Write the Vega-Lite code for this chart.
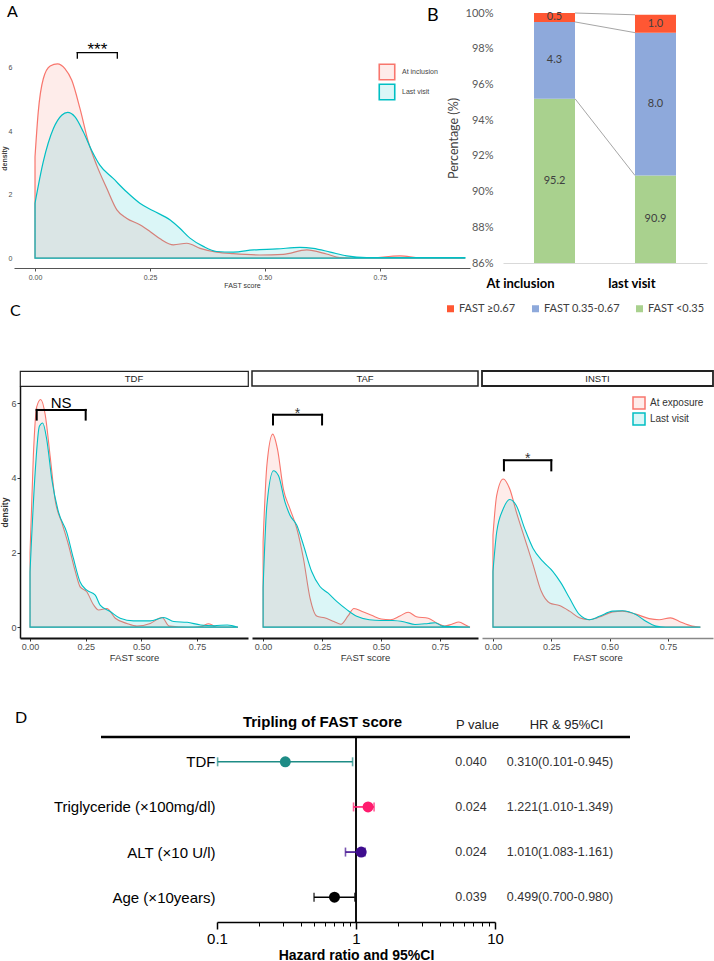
{
"$schema": "https://vega.github.io/schema/vega-lite/v6.json",
"padding": {"left": 0, "top": 4, "right": 0, "bottom": 0},
"background": "white",
"config": {"view": {"stroke": null}, "font": "Liberation Sans", "axis": {"grid": false}, "title": {"frame": "group", "anchor": "start", "fontWeight": "normal", "font": "Lato", "baseline": "bottom", "color": "black"}},
"datasets": {
"densA": [
{"series":"At inclusion","fast":0,"density":3.19},{"series":"At inclusion","fast":0.007,"density":4.6},{"series":"At inclusion","fast":0.018,"density":5.65},{"series":"At inclusion","fast":0.033,"density":6.05},{"series":"At inclusion","fast":0.049,"density":6.12},{"series":"At inclusion","fast":0.065,"density":5.97},{"series":"At inclusion","fast":0.08,"density":5.6},{"series":"At inclusion","fast":0.098,"density":4.7},{"series":"At inclusion","fast":0.116,"density":3.66},{"series":"At inclusion","fast":0.134,"density":2.93},{"series":"At inclusion","fast":0.156,"density":2.2},{"series":"At inclusion","fast":0.178,"density":1.52},{"series":"At inclusion","fast":0.199,"density":1.26},{"series":"At inclusion","fast":0.228,"density":1.05},{"series":"At inclusion","fast":0.25,"density":0.84},{"series":"At inclusion","fast":0.272,"density":0.61},{"series":"At inclusion","fast":0.301,"density":0.42},{"series":"At inclusion","fast":0.33,"density":0.47},{"series":"At inclusion","fast":0.359,"density":0.31},{"series":"At inclusion","fast":0.395,"density":0.19},{"series":"At inclusion","fast":0.431,"density":0.14},{"series":"At inclusion","fast":0.489,"density":0.1},{"series":"At inclusion","fast":0.54,"density":0.12},{"series":"At inclusion","fast":0.591,"density":0.26},{"series":"At inclusion","fast":0.634,"density":0.13},{"series":"At inclusion","fast":0.663,"density":0.02},{"series":"At inclusion","fast":0.721,"density":0},{"series":"At inclusion","fast":0.794,"density":0.07},{"series":"At inclusion","fast":0.837,"density":0.01},{"series":"At inclusion","fast":0.935,"density":0},
{"series":"Last visit","fast":0,"density":1.73},{"series":"Last visit","fast":0.018,"density":3.04},{"series":"Last visit","fast":0.04,"density":4.08},{"series":"Last visit","fast":0.058,"density":4.5},{"series":"Last visit","fast":0.071,"density":4.59},{"series":"Last visit","fast":0.087,"density":4.45},{"series":"Last visit","fast":0.105,"density":3.98},{"series":"Last visit","fast":0.123,"density":3.4},{"series":"Last visit","fast":0.141,"density":2.93},{"series":"Last visit","fast":0.17,"density":2.51},{"series":"Last visit","fast":0.199,"density":2.09},{"series":"Last visit","fast":0.228,"density":1.73},{"series":"Last visit","fast":0.257,"density":1.49},{"series":"Last visit","fast":0.294,"density":1.2},{"series":"Last visit","fast":0.315,"density":0.94},{"series":"Last visit","fast":0.337,"density":0.63},{"series":"Last visit","fast":0.366,"density":0.37},{"series":"Last visit","fast":0.395,"density":0.21},{"series":"Last visit","fast":0.431,"density":0.19},{"series":"Last visit","fast":0.475,"density":0.26},{"series":"Last visit","fast":0.526,"density":0.29},{"series":"Last visit","fast":0.576,"density":0.34},{"series":"Last visit","fast":0.605,"density":0.31},{"series":"Last visit","fast":0.642,"density":0.19},{"series":"Last visit","fast":0.678,"density":0.07},{"series":"Last visit","fast":0.721,"density":0.02},{"series":"Last visit","fast":0.83,"density":0.02},{"series":"Last visit","fast":0.935,"density":0.02}
],
"densC": [
{"drug":"TDF","series":"At exposure","fast":0,"density":2.0},{"drug":"TDF","series":"At exposure","fast":0.015,"density":4.6},{"drug":"TDF","series":"At exposure","fast":0.03,"density":5.9},{"drug":"TDF","series":"At exposure","fast":0.048,"density":6.1},{"drug":"TDF","series":"At exposure","fast":0.068,"density":5.7},{"drug":"TDF","series":"At exposure","fast":0.09,"density":4.6},{"drug":"TDF","series":"At exposure","fast":0.113,"density":3.4},{"drug":"TDF","series":"At exposure","fast":0.143,"density":2.8},{"drug":"TDF","series":"At exposure","fast":0.173,"density":2.2},{"drug":"TDF","series":"At exposure","fast":0.203,"density":1.5},{"drug":"TDF","series":"At exposure","fast":0.225,"density":1.08},{"drug":"TDF","series":"At exposure","fast":0.255,"density":0.95},{"drug":"TDF","series":"At exposure","fast":0.285,"density":0.6},{"drug":"TDF","series":"At exposure","fast":0.308,"density":0.46},{"drug":"TDF","series":"At exposure","fast":0.345,"density":0.5},{"drug":"TDF","series":"At exposure","fast":0.383,"density":0.24},{"drug":"TDF","series":"At exposure","fast":0.435,"density":0.1},{"drug":"TDF","series":"At exposure","fast":0.48,"density":0.03},{"drug":"TDF","series":"At exposure","fast":0.54,"density":0.1},{"drug":"TDF","series":"At exposure","fast":0.593,"density":0.26},{"drug":"TDF","series":"At exposure","fast":0.625,"density":0.03},{"drug":"TDF","series":"At exposure","fast":0.706,"density":0},{"drug":"TDF","series":"At exposure","fast":0.766,"density":0.02},{"drug":"TDF","series":"At exposure","fast":0.803,"density":0.09},{"drug":"TDF","series":"At exposure","fast":0.841,"density":0},{"drug":"TDF","series":"At exposure","fast":0.934,"density":0},
{"drug":"TDF","series":"Last visit","fast":0,"density":1.48},{"drug":"TDF","series":"Last visit","fast":0.023,"density":4.14},{"drug":"TDF","series":"Last visit","fast":0.042,"density":5.38},{"drug":"TDF","series":"Last visit","fast":0.057,"density":5.47},{"drug":"TDF","series":"Last visit","fast":0.075,"density":5.03},{"drug":"TDF","series":"Last visit","fast":0.098,"density":3.96},{"drug":"TDF","series":"Last visit","fast":0.128,"density":3.08},{"drug":"TDF","series":"Last visit","fast":0.165,"density":2.54},{"drug":"TDF","series":"Last visit","fast":0.195,"density":1.84},{"drug":"TDF","series":"Last visit","fast":0.225,"density":1.21},{"drug":"TDF","series":"Last visit","fast":0.255,"density":0.99},{"drug":"TDF","series":"Last visit","fast":0.293,"density":0.86},{"drug":"TDF","series":"Last visit","fast":0.315,"density":0.59},{"drug":"TDF","series":"Last visit","fast":0.36,"density":0.42},{"drug":"TDF","series":"Last visit","fast":0.405,"density":0.24},{"drug":"TDF","series":"Last visit","fast":0.465,"density":0.17},{"drug":"TDF","series":"Last visit","fast":0.54,"density":0.17},{"drug":"TDF","series":"Last visit","fast":0.6,"density":0.26},{"drug":"TDF","series":"Last visit","fast":0.646,"density":0.15},{"drug":"TDF","series":"Last visit","fast":0.706,"density":0.13},{"drug":"TDF","series":"Last visit","fast":0.766,"density":0.06},{"drug":"TDF","series":"Last visit","fast":0.826,"density":0.04},{"drug":"TDF","series":"Last visit","fast":0.886,"density":0.06},{"drug":"TDF","series":"Last visit","fast":0.934,"density":0},
{"drug":"TAF","series":"At exposure","fast":0,"density":2.29},{"drug":"TAF","series":"At exposure","fast":0.016,"density":4.33},{"drug":"TAF","series":"At exposure","fast":0.041,"density":5.17},{"drug":"TAF","series":"At exposure","fast":0.061,"density":4.77},{"drug":"TAF","series":"At exposure","fast":0.086,"density":3.7},{"drug":"TAF","series":"At exposure","fast":0.114,"density":3.17},{"drug":"TAF","series":"At exposure","fast":0.143,"density":2.64},{"drug":"TAF","series":"At exposure","fast":0.171,"density":1.84},{"drug":"TAF","series":"At exposure","fast":0.199,"density":0.78},{"drug":"TAF","series":"At exposure","fast":0.227,"density":0.3},{"drug":"TAF","series":"At exposure","fast":0.26,"density":0.25},{"drug":"TAF","series":"At exposure","fast":0.3,"density":0.15},{"drug":"TAF","series":"At exposure","fast":0.33,"density":0.08},{"drug":"TAF","series":"At exposure","fast":0.36,"density":0.3},{"drug":"TAF","series":"At exposure","fast":0.385,"density":0.5},{"drug":"TAF","series":"At exposure","fast":0.42,"density":0.42},{"drug":"TAF","series":"At exposure","fast":0.46,"density":0.32},{"drug":"TAF","series":"At exposure","fast":0.5,"density":0.22},{"drug":"TAF","series":"At exposure","fast":0.54,"density":0.2},{"drug":"TAF","series":"At exposure","fast":0.58,"density":0.3},{"drug":"TAF","series":"At exposure","fast":0.615,"density":0.4},{"drug":"TAF","series":"At exposure","fast":0.65,"density":0.28},{"drug":"TAF","series":"At exposure","fast":0.7,"density":0.24},{"drug":"TAF","series":"At exposure","fast":0.74,"density":0.1},{"drug":"TAF","series":"At exposure","fast":0.77,"density":0.03},{"drug":"TAF","series":"At exposure","fast":0.8,"density":0.08},{"drug":"TAF","series":"At exposure","fast":0.83,"density":0.14},{"drug":"TAF","series":"At exposure","fast":0.86,"density":0.05},{"drug":"TAF","series":"At exposure","fast":0.877,"density":0},
{"drug":"TAF","series":"Last visit","fast":0,"density":1.05},{"drug":"TAF","series":"Last visit","fast":0.016,"density":3.26},{"drug":"TAF","series":"Last visit","fast":0.044,"density":4.19},{"drug":"TAF","series":"Last visit","fast":0.065,"density":4.06},{"drug":"TAF","series":"Last visit","fast":0.093,"density":3.35},{"drug":"TAF","series":"Last visit","fast":0.114,"density":3.0},{"drug":"TAF","series":"Last visit","fast":0.143,"density":2.73},{"drug":"TAF","series":"Last visit","fast":0.171,"density":2.2},{"drug":"TAF","series":"Last visit","fast":0.206,"density":1.49},{"drug":"TAF","series":"Last visit","fast":0.241,"density":1.09},{"drug":"TAF","series":"Last visit","fast":0.276,"density":0.91},{"drug":"TAF","series":"Last visit","fast":0.312,"density":0.69},{"drug":"TAF","series":"Last visit","fast":0.355,"density":0.47},{"drug":"TAF","series":"Last visit","fast":0.397,"density":0.29},{"drug":"TAF","series":"Last visit","fast":0.45,"density":0.2},{"drug":"TAF","series":"Last visit","fast":0.5,"density":0.18},{"drug":"TAF","series":"Last visit","fast":0.55,"density":0.18},{"drug":"TAF","series":"Last visit","fast":0.6,"density":0.14},{"drug":"TAF","series":"Last visit","fast":0.644,"density":0.07},{"drug":"TAF","series":"Last visit","fast":0.7,"density":0.1},{"drug":"TAF","series":"Last visit","fast":0.73,"density":0.12},{"drug":"TAF","series":"Last visit","fast":0.76,"density":0.03},{"drug":"TAF","series":"Last visit","fast":0.83,"density":0.01},{"drug":"TAF","series":"Last visit","fast":0.877,"density":0},
{"drug":"INSTI","series":"At exposure","fast":0,"density":2.46},{"drug":"INSTI","series":"At exposure","fast":0.016,"density":3.53},{"drug":"INSTI","series":"At exposure","fast":0.044,"density":3.97},{"drug":"INSTI","series":"At exposure","fast":0.072,"density":3.7},{"drug":"INSTI","series":"At exposure","fast":0.1,"density":3.09},{"drug":"INSTI","series":"At exposure","fast":0.136,"density":2.38},{"drug":"INSTI","series":"At exposure","fast":0.172,"density":1.67},{"drug":"INSTI","series":"At exposure","fast":0.207,"density":0.96},{"drug":"INSTI","series":"At exposure","fast":0.243,"density":0.65},{"drug":"INSTI","series":"At exposure","fast":0.285,"density":0.58},{"drug":"INSTI","series":"At exposure","fast":0.328,"density":0.43},{"drug":"INSTI","series":"At exposure","fast":0.37,"density":0.25},{"drug":"INSTI","series":"At exposure","fast":0.413,"density":0.2},{"drug":"INSTI","series":"At exposure","fast":0.456,"density":0.27},{"drug":"INSTI","series":"At exposure","fast":0.513,"density":0.41},{"drug":"INSTI","series":"At exposure","fast":0.555,"density":0.43},{"drug":"INSTI","series":"At exposure","fast":0.612,"density":0.35},{"drug":"INSTI","series":"At exposure","fast":0.669,"density":0.23},{"drug":"INSTI","series":"At exposure","fast":0.712,"density":0.2},{"drug":"INSTI","series":"At exposure","fast":0.761,"density":0.25},{"drug":"INSTI","series":"At exposure","fast":0.797,"density":0.16},{"drug":"INSTI","series":"At exposure","fast":0.853,"density":0.03},{"drug":"INSTI","series":"At exposure","fast":0.889,"density":0},
{"drug":"INSTI","series":"Last visit","fast":0,"density":1.49},{"drug":"INSTI","series":"Last visit","fast":0.016,"density":2.55},{"drug":"INSTI","series":"Last visit","fast":0.044,"density":3.17},{"drug":"INSTI","series":"Last visit","fast":0.072,"density":3.42},{"drug":"INSTI","series":"Last visit","fast":0.1,"density":3.26},{"drug":"INSTI","series":"Last visit","fast":0.136,"density":2.64},{"drug":"INSTI","series":"Last visit","fast":0.172,"density":2.11},{"drug":"INSTI","series":"Last visit","fast":0.214,"density":1.76},{"drug":"INSTI","series":"Last visit","fast":0.257,"density":1.49},{"drug":"INSTI","series":"Last visit","fast":0.292,"density":1.18},{"drug":"INSTI","series":"Last visit","fast":0.328,"density":0.78},{"drug":"INSTI","series":"Last visit","fast":0.37,"density":0.34},{"drug":"INSTI","series":"Last visit","fast":0.413,"density":0.2},{"drug":"INSTI","series":"Last visit","fast":0.456,"density":0.29},{"drug":"INSTI","series":"Last visit","fast":0.513,"density":0.43},{"drug":"INSTI","series":"Last visit","fast":0.555,"density":0.44},{"drug":"INSTI","series":"Last visit","fast":0.612,"density":0.34},{"drug":"INSTI","series":"Last visit","fast":0.655,"density":0.16},{"drug":"INSTI","series":"Last visit","fast":0.698,"density":0.03},{"drug":"INSTI","series":"Last visit","fast":0.74,"density":0},{"drug":"INSTI","series":"Last visit","fast":0.889,"density":0}
],
"bars": [
{"visit":"At inclusion","band":"FAST <0.35","lower":0,"pct":95.2},
{"visit":"At inclusion","band":"FAST 0.35-0.67","lower":0.35,"pct":4.3},
{"visit":"At inclusion","band":"FAST ≥0.67","lower":0.67,"pct":0.5},
{"visit":"last visit","band":"FAST <0.35","lower":0,"pct":90.9},
{"visit":"last visit","band":"FAST 0.35-0.67","lower":0.35,"pct":8.0},
{"visit":"last visit","band":"FAST ≥0.67","lower":0.67,"pct":1.0}
],
"forest": [
{"var":"TDF","hr":0.31,"lo":0.101,"hi":0.945,"P value":"0.040","HR & 95%CI":"0.310(0.101-0.945)"},
{"var":"Triglyceride (×100mg/dl)","hr":1.221,"lo":0.96,"hi":1.349,"P value":"0.024","HR & 95%CI":"1.221(1.010-1.349)"},
{"var":"ALT (×10 U/l)","hr":1.09,"lo":0.84,"hi":1.16,"P value":"0.024","HR & 95%CI":"1.010(1.083-1.161)"},
{"var":"Age (×10years)","hr":0.7,"lo":0.499,"hi":0.98,"P value":"0.039","HR & 95%CI":"0.499(0.700-0.980)"}
]
},
"bounds": "flush",
"spacing": 0,
"resolve": {"scale": {"x": "independent", "y": "independent", "color": "independent", "fill": "independent", "stroke": "independent"}, "legend": {"color": "independent", "fill": "independent", "stroke": "independent"}},
"vconcat": [
{"hconcat": [
{
 "width": 456, "height": 255,
 "title": {"text": "A", "dx": -7, "offset": -7, "fontSize": 16},
 "layer": [
  {"data": {"name": "densA"},
   "mark": {"type": "area", "interpolate": "monotone", "fillOpacity": 0.14, "strokeWidth": 1.2},
   "encoding": {
    "x": {"field": "fast", "type": "quantitative", "scale": {"domain": [-0.0457, 0.946], "nice": false, "zero": false},
          "axis": {"values": [0, 0.25, 0.5, 0.75], "format": ".2f", "title": "FAST score", "titleFontSize": 7, "titleFontWeight": "normal", "titleColor": "#333", "titlePadding": 1, "labelFontSize": 7, "labelColor": "#4D4D4D", "labelPadding": 2, "labelFlush": false, "domainColor": "#555", "tickColor": "#555", "tickSize": 3}},
    "y": {"field": "density", "type": "quantitative", "stack": null, "scale": {"domain": [-0.31, 7.72], "nice": false, "zero": false},
          "axis": {"values": [0, 2, 4, 6], "title": "density", "titleFontSize": 7, "titleFontWeight": "bold", "titleColor": "#444", "titlePadding": 1, "titleY": 145, "labelFontSize": 7, "labelColor": "#4D4D4D", "labelPadding": 2, "domain": false, "ticks": false}},
    "y2": {"datum": 0},
    "fill": {"field": "series", "type": "nominal", "scale": {"domain": ["At inclusion", "Last visit"], "range": ["#F8766D", "#00BFC4"]},
             "legend": {"title": null, "orient": "none", "legendX": 364, "legendY": 50, "symbolType": "square", "symbolSize": 240, "symbolStrokeWidth": 1.6, "labelFontSize": 7, "labelColor": "#444", "rowPadding": -3, "labelOffset": 6, "encode": {"symbols": {"update": {"fillOpacity": {"value": 0.14}}}}}},
    "stroke": {"field": "series", "type": "nominal", "scale": {"domain": ["At inclusion", "Last visit"], "range": ["#F8766D", "#00BFC4"]},
             "legend": {"title": null, "orient": "none", "legendX": 364, "legendY": 50, "symbolType": "square", "symbolSize": 240, "symbolStrokeWidth": 1.6, "labelFontSize": 7, "labelColor": "#444", "rowPadding": -3, "labelOffset": 6, "encode": {"symbols": {"update": {"fillOpacity": {"value": 0.14}}}}}}
   }},
  {"data": {"values": [{"x1": 0.092, "x2": 0.179, "top": 6.47, "bot": 6.3, "label": "***"}]},
   "transform": [{"calculate": "(datum.x1 + datum.x2) / 2", "as": "xm"}],
   "layer": [
    {"mark": {"type": "rule", "color": "black", "strokeWidth": 1.3, "strokeCap": "square"}, "encoding": {"x": {"field": "x1", "type": "quantitative", "title": "FAST score"}, "x2": {"field": "x2"}, "y": {"field": "top", "type": "quantitative", "title": "density"}}},
    {"mark": {"type": "rule", "color": "black", "strokeWidth": 1.3, "strokeCap": "square"}, "encoding": {"x": {"field": "x1", "type": "quantitative", "title": "FAST score"}, "y": {"field": "top", "type": "quantitative", "title": "density"}, "y2": {"field": "bot"}}},
    {"mark": {"type": "rule", "color": "black", "strokeWidth": 1.3, "strokeCap": "square"}, "encoding": {"x": {"field": "x2", "type": "quantitative", "title": "FAST score"}, "y": {"field": "top", "type": "quantitative", "title": "density"}, "y2": {"field": "bot"}}},
    {"mark": {"type": "text", "fontSize": 17, "baseline": "bottom", "dy": 6, "color": "black"}, "encoding": {"x": {"field": "xm", "type": "quantitative", "title": "FAST score"}, "y": {"field": "top", "type": "quantitative", "title": "density"}, "text": {"field": "label"}}}
   ]}
 ]
},
{
 "width": 204, "height": 250,
 "title": {"text": "B", "dx": -76, "offset": -18, "fontSize": 18},
 "data": {"name": "bars"},
 "transform": [{"stack": "pct", "groupby": ["visit"], "sort": [{"field": "lower", "order": "ascending"}], "as": ["y0", "y1"]}],
 "layer": [
  {"transform": [{"pivot": "visit", "value": "y1", "groupby": ["band"]}],
   "mark": {"type": "rule", "color": "#A6A6A6", "strokeWidth": 1},
   "encoding": {
    "x": {"datum": "At inclusion", "type": "nominal", "bandPosition": 1, "title": null},
    "x2": {"datum": "last visit", "bandPosition": 0},
    "y": {"field": "At inclusion", "type": "quantitative", "title": "Percentage (%)"},
    "y2": {"field": "last visit"}
   }},
  {"mark": {"type": "bar"},
   "encoding": {
    "x": {"field": "visit", "type": "nominal", "sort": null, "scale": {"domain": ["At inclusion", "last visit"], "paddingInner": 0.594, "paddingOuter": 0.307},
          "axis": {"title": null, "labelAngle": 0, "labelFont": "Lato", "labelFontSize": 13, "labelFontWeight": "bold", "labelColor": "#000", "ticks": false, "tickSize": 0, "domainColor": "#D9D9D9", "labelPadding": 20}},
    "y": {"field": "y0", "type": "quantitative", "scale": {"domain": [86, 100], "nice": false, "zero": false, "clamp": true},
          "axis": {"values": [86, 88, 90, 92, 94, 96, 98, 100], "tickCount": 10, "labelExpr": "datum.value + '%'", "labelOverlap": false, "title": "Percentage (%)", "domain": false, "ticks": false, "tickSize": 0, "labelFont": "Lato", "labelFontSize": 11, "labelColor": "#595959", "labelPadding": 10, "titleFont": "Lato", "titleFontSize": 12.5, "titleFontWeight": "normal", "titleColor": "#404040", "titlePadding": 5}},
    "y2": {"field": "y1"},
    "color": {"field": "band", "type": "nominal", "scale": {"domain": ["FAST ≥0.67", "FAST 0.35-0.67", "FAST <0.35"], "range": ["#FF5733", "#8EA9DB", "#A9D18E"]},
              "legend": {"title": null, "orient": "none", "direction": "horizontal", "legendX": -58, "legendY": 290, "symbolType": "square", "symbolSize": 49, "labelFont": "Lato", "labelFontSize": 11, "labelColor": "#404040", "columnPadding": 14, "labelOffset": 3}}
   }},
  {"transform": [{"calculate": "(max(datum.y0, 86) + datum.y1) / 2", "as": "mid"}],
   "mark": {"type": "text", "font": "Lato", "fontSize": 11, "color": "#404040"},
   "encoding": {
    "x": {"field": "visit", "type": "nominal", "title": null},
    "y": {"field": "mid", "type": "quantitative", "title": "Percentage (%)"},
    "text": {"field": "pct", "type": "quantitative", "format": ".1f"}
   }}
 ]
}
], "spacing": 33, "bounds": "flush",
"resolve": {"scale": {"x": "independent", "y": "independent", "color": "independent", "fill": "independent", "stroke": "independent"}, "legend": {"color": "independent", "fill": "independent", "stroke": "independent"}}},

{"width": 1, "height": 358, "data": {"values": []}, "mark": "point"},

{"hconcat": [
{"width": 2, "height": 15, "title": {"text": "C", "dx": -4, "offset": 52, "fontSize": 16}, "data": {"values": []}, "mark": "point"},
{"width": 228, "height": 15, "data": {"values": [{"drug": "TDF"}]}, "view": {"stroke": "#222", "strokeWidth": 1.2, "fill": "white"}, "mark": {"type": "text", "fontSize": 9.5, "color": "#1A1A1A"}, "encoding": {"text": {"field": "drug"}}},
{"width": 226, "height": 15, "data": {"values": [{"drug": "TAF"}]}, "view": {"stroke": "#222", "strokeWidth": 1.5, "fill": "white"}, "mark": {"type": "text", "fontSize": 9.5, "color": "#1A1A1A"}, "encoding": {"text": {"field": "drug"}}},
{"width": 231, "height": 15, "data": {"values": [{"drug": "INSTI"}]}, "view": {"stroke": "#222", "strokeWidth": 1.8, "fill": "white"}, "mark": {"type": "text", "fontSize": 9.5, "color": "#1A1A1A"}, "encoding": {"text": {"field": "drug"}}}
], "spacing": 4, "bounds": "flush"},

{"width": 1, "height": 15, "data": {"values": []}, "mark": "point"},

{"hconcat": [
{"width": 2, "height": 1, "data": {"values": []}, "mark": "point"},
{
 "width": 228, "height": 252,
 "layer": [
  {"data": {"name": "densC"}, "transform": [{"filter": "datum.drug === 'TDF'"}],
   "mark": {"type": "area", "interpolate": "monotone", "fillOpacity": 0.14, "strokeWidth": 1.1},
   "encoding": {
    "x": {"field": "fast", "type": "quantitative", "scale": {"domain": [-0.045, 0.979], "nice": false, "zero": false},
          "axis": {"values": [0, 0.25, 0.5, 0.75], "format": ".2f", "title": "FAST score", "titleFontSize": 9.5, "titleFontWeight": "normal", "titleColor": "#333", "titlePadding": 1, "labelFontSize": 9, "labelColor": "#4D4D4D", "labelPadding": 1, "labelFlush": false, "domainColor": "#111", "domainWidth": 1.8, "tickColor": "#333", "tickSize": 3}},
    "y": {"field": "density", "type": "quantitative", "stack": null, "scale": {"domain": [-0.29, 6.46], "nice": false, "zero": false},
          "axis": {"values": [0, 2, 4, 6], "title": "density", "titleFontSize": 8.5, "titleFontWeight": "bold", "titleColor": "#333", "titlePadding": 1, "labelFontSize": 9, "labelColor": "#4D4D4D", "labelPadding": 1, "domainColor": "#111", "domainWidth": 1.5, "tickColor": "#333", "tickSize": 3}},
    "y2": {"datum": 0},
    "fill": {"field": "series", "type": "nominal", "scale": {"domain": ["At exposure", "Last visit"], "range": ["#F8766D", "#00BFC4"]}, "legend": null},
    "stroke": {"field": "series", "type": "nominal", "scale": {"domain": ["At exposure", "Last visit"], "range": ["#F8766D", "#00BFC4"]}, "legend": null}
   }},
  {"data": {"values": [{"x1": 0.03, "x2": 0.25, "top": 5.82, "bot": 5.56, "label": "NS"}]},
   "transform": [{"calculate": "(datum.x1 + datum.x2) / 2", "as": "xm"}],
   "layer": [
    {"mark": {"type": "rule", "color": "black", "strokeWidth": 2, "strokeCap": "square"}, "encoding": {"x": {"field": "x1", "type": "quantitative", "title": "FAST score"}, "x2": {"field": "x2"}, "y": {"field": "top", "type": "quantitative", "title": "density"}}},
    {"mark": {"type": "rule", "color": "black", "strokeWidth": 2, "strokeCap": "square"}, "encoding": {"x": {"field": "x1", "type": "quantitative", "title": "FAST score"}, "y": {"field": "top", "type": "quantitative", "title": "density"}, "y2": {"field": "bot"}}},
    {"mark": {"type": "rule", "color": "black", "strokeWidth": 2, "strokeCap": "square"}, "encoding": {"x": {"field": "x2", "type": "quantitative", "title": "FAST score"}, "y": {"field": "top", "type": "quantitative", "title": "density"}, "y2": {"field": "bot"}}},
    {"mark": {"type": "text", "fontSize": 15, "baseline": "bottom", "dy": 1, "color": "black"}, "encoding": {"x": {"field": "xm", "type": "quantitative", "title": "FAST score"}, "y": {"field": "top", "type": "quantitative", "title": "density"}, "text": {"field": "label"}}}
   ]}
 ]
},
{
 "width": 226, "height": 252,
 "layer": [
  {"data": {"name": "densC"}, "transform": [{"filter": "datum.drug === 'TAF'"}],
   "mark": {"type": "area", "interpolate": "monotone", "fillOpacity": 0.14, "strokeWidth": 1.1},
   "encoding": {
    "x": {"field": "fast", "type": "quantitative", "scale": {"domain": [-0.047, 0.911], "nice": false, "zero": false},
          "axis": {"values": [0, 0.25, 0.5, 0.75], "format": ".2f", "title": "FAST score", "titleFontSize": 9.5, "titleFontWeight": "normal", "titleColor": "#333", "titlePadding": 1, "labelFontSize": 9, "labelColor": "#4D4D4D", "labelPadding": 1, "labelFlush": false, "domainColor": "#111", "domainWidth": 2, "tickColor": "#333", "tickSize": 3}},
    "y": {"field": "density", "type": "quantitative", "stack": null, "scale": {"domain": [-0.29, 6.46], "nice": false, "zero": false}, "axis": null},
    "y2": {"datum": 0},
    "fill": {"field": "series", "type": "nominal", "scale": {"domain": ["At exposure", "Last visit"], "range": ["#F8766D", "#00BFC4"]}, "legend": null},
    "stroke": {"field": "series", "type": "nominal", "scale": {"domain": ["At exposure", "Last visit"], "range": ["#F8766D", "#00BFC4"]}, "legend": null}
   }},
  {"data": {"values": [{"x1": 0.042, "x2": 0.25, "top": 5.69, "bot": 5.43, "label": "*"}]},
   "transform": [{"calculate": "(datum.x1 + datum.x2) / 2", "as": "xm"}],
   "layer": [
    {"mark": {"type": "rule", "color": "black", "strokeWidth": 2, "strokeCap": "square"}, "encoding": {"x": {"field": "x1", "type": "quantitative", "title": "FAST score"}, "x2": {"field": "x2"}, "y": {"field": "top", "type": "quantitative", "axis": null}}},
    {"mark": {"type": "rule", "color": "black", "strokeWidth": 2, "strokeCap": "square"}, "encoding": {"x": {"field": "x1", "type": "quantitative", "title": "FAST score"}, "y": {"field": "top", "type": "quantitative", "axis": null}, "y2": {"field": "bot"}}},
    {"mark": {"type": "rule", "color": "black", "strokeWidth": 2, "strokeCap": "square"}, "encoding": {"x": {"field": "x2", "type": "quantitative", "title": "FAST score"}, "y": {"field": "top", "type": "quantitative", "axis": null}, "y2": {"field": "bot"}}},
    {"mark": {"type": "text", "fontSize": 14, "baseline": "bottom", "dy": 6, "color": "#333"}, "encoding": {"x": {"field": "xm", "type": "quantitative", "title": "FAST score"}, "y": {"field": "top", "type": "quantitative", "axis": null}, "text": {"field": "label"}}}
   ]}
 ]
},
{
 "width": 231, "height": 252,
 "layer": [
  {"data": {"name": "densC"}, "transform": [{"filter": "datum.drug === 'INSTI'"}],
   "mark": {"type": "area", "interpolate": "monotone", "fillOpacity": 0.14, "strokeWidth": 1.1},
   "encoding": {
    "x": {"field": "fast", "type": "quantitative", "scale": {"domain": [-0.047, 0.943], "nice": false, "zero": false},
          "axis": {"values": [0, 0.25, 0.5, 0.75], "format": ".2f", "title": "FAST score", "titleFontSize": 9.5, "titleFontWeight": "normal", "titleColor": "#333", "titlePadding": 1, "labelFontSize": 9, "labelColor": "#4D4D4D", "labelPadding": 1, "labelFlush": false, "domainColor": "#888", "domainWidth": 1.5, "tickColor": "#333", "tickSize": 3}},
    "y": {"field": "density", "type": "quantitative", "stack": null, "scale": {"domain": [-0.29, 6.46], "nice": false, "zero": false}, "axis": null},
    "y2": {"datum": 0},
    "fill": {"field": "series", "type": "nominal", "scale": {"domain": ["At exposure", "Last visit"], "range": ["#F8766D", "#00BFC4"]},
             "legend": {"title": null, "orient": "none", "legendX": 150, "legendY": 10, "symbolType": "square", "symbolSize": 144, "symbolStrokeWidth": 1.5, "labelFontSize": 10, "labelColor": "#333", "rowPadding": -4, "labelOffset": 4, "encode": {"symbols": {"update": {"fillOpacity": {"value": 0.14}}}}}},
    "stroke": {"field": "series", "type": "nominal", "scale": {"domain": ["At exposure", "Last visit"], "range": ["#F8766D", "#00BFC4"]},
             "legend": {"title": null, "orient": "none", "legendX": 150, "legendY": 10, "symbolType": "square", "symbolSize": 144, "symbolStrokeWidth": 1.5, "labelFontSize": 10, "labelColor": "#333", "rowPadding": -4, "labelOffset": 4, "encode": {"symbols": {"update": {"fillOpacity": {"value": 0.14}}}}}}
   }},
  {"data": {"values": [{"x1": 0.047, "x2": 0.25, "top": 4.47, "bot": 4.2, "label": "*"}]},
   "transform": [{"calculate": "(datum.x1 + datum.x2) / 2", "as": "xm"}],
   "layer": [
    {"mark": {"type": "rule", "color": "black", "strokeWidth": 2, "strokeCap": "square"}, "encoding": {"x": {"field": "x1", "type": "quantitative", "title": "FAST score"}, "x2": {"field": "x2"}, "y": {"field": "top", "type": "quantitative", "axis": null}}},
    {"mark": {"type": "rule", "color": "black", "strokeWidth": 2, "strokeCap": "square"}, "encoding": {"x": {"field": "x1", "type": "quantitative", "title": "FAST score"}, "y": {"field": "top", "type": "quantitative", "axis": null}, "y2": {"field": "bot"}}},
    {"mark": {"type": "rule", "color": "black", "strokeWidth": 2, "strokeCap": "square"}, "encoding": {"x": {"field": "x2", "type": "quantitative", "title": "FAST score"}, "y": {"field": "top", "type": "quantitative", "axis": null}, "y2": {"field": "bot"}}},
    {"mark": {"type": "text", "fontSize": 14, "baseline": "bottom", "dy": 6, "color": "#333"}, "encoding": {"x": {"field": "xm", "type": "quantitative", "title": "FAST score"}, "y": {"field": "top", "type": "quantitative", "axis": null}, "text": {"field": "label"}}}
   ]}
 ]
}
], "spacing": 4, "bounds": "flush",
"resolve": {"scale": {"x": "independent", "y": "independent", "fill": "independent", "stroke": "independent"}, "legend": {"fill": "independent", "stroke": "independent"}}},

{"width": 1, "height": 351, "data": {"values": []}, "mark": "point"},

{"hconcat": [
{"width": 83, "height": 185, "title": {"text": "D", "dx": 1, "offset": 11, "fontSize": 16}, "data": {"values": []}, "mark": "point"},
{
 "width": 529, "height": 185,
 "data": {"name": "forest"},
 "layer": [
  {"data": {"values": [{"frame": 1}]},
   "mark": {"type": "rule", "color": "black", "strokeWidth": 2.5},
   "encoding": {
    "x": {"datum": 0, "type": "quantitative", "scale": {"domain": [0, 1], "nice": false}, "axis": {"orient": "top", "domain": false, "ticks": false, "tickSize": 0, "labels": false, "title": "Tripling of FAST score", "titleFontSize": 15, "titleFontWeight": "bold", "titleColor": "black", "titleX": 221, "titleY": -16, "titleAlign": "center", "titleBaseline": "middle"}},
    "x2": {"datum": 1},
    "y": {"datum": 1, "type": "quantitative", "scale": {"domain": [0, 1], "nice": false}, "axis": null}
   }},
  {"layer": [
    {"layer": [
      {"mark": {"type": "rule", "color": "black", "strokeWidth": 1},
       "encoding": {"x": {"datum": 1, "type": "quantitative", "scale": {"type": "log", "domain": [0.1, 10], "range": [116, 394], "nice": false},
         "axis": {"orient": "bottom", "values": [0.2, 0.3, 0.4, 0.5, 0.6, 0.7, 0.8, 0.9, 2, 3, 4, 5, 6, 7, 8, 9], "tickCount": 20, "labels": false, "domain": false, "tickSize": 4, "tickColor": "black", "tickWidth": 1, "title": null}}}},
      {"mark": {"type": "rule", "strokeWidth": 1.6},
       "encoding": {"x": {"field": "lo", "type": "quantitative", "axis": null}, "x2": {"field": "hi"},
         "y": {"field": "var", "type": "nominal", "sort": null, "scale": {"type": "point", "padding": 0.55}, "axis": {"orient": "left", "offset": -116, "domain": false, "ticks": false, "tickSize": 0, "title": null, "labelFontSize": 15, "labelColor": "black", "labelPadding": 2, "labelLimit": 400}},
         "color": {"field": "var", "type": "nominal", "sort": null, "scale": {"domain": ["TDF", "Triglyceride (×100mg/dl)", "ALT (×10 U/l)", "Age (×10years)"], "range": ["#1E8C86", "#FF1C6E", "#3E0C8E", "#000000"]}, "legend": null}}},
      {"mark": {"type": "tick", "thickness": 1.6, "size": 9},
       "encoding": {"x": {"field": "lo", "type": "quantitative", "axis": null}, "y": {"field": "var", "type": "nominal", "sort": null, "title": null}, "color": {"field": "var", "type": "nominal", "sort": null, "legend": null}}},
      {"mark": {"type": "tick", "thickness": 1.6, "size": 9},
       "encoding": {"x": {"field": "hi", "type": "quantitative", "axis": null}, "y": {"field": "var", "type": "nominal", "sort": null, "title": null}, "color": {"field": "var", "type": "nominal", "sort": null, "legend": null}}},
      {"mark": {"type": "circle", "size": 120, "opacity": 1},
       "encoding": {"x": {"field": "hr", "type": "quantitative", "axis": {"orient": "bottom", "values": [0.1, 1, 10], "format": "~g", "labelFontSize": 15, "labelColor": "black", "labelPadding": 2, "labelFlush": false, "tickSize": 7, "tickWidth": 1.5, "tickColor": "black", "domainColor": "black", "domainWidth": 1.5, "title": "Hazard ratio and 95%CI", "titleFontSize": 14, "titleFontWeight": "bold", "titleColor": "black", "titlePadding": 2}},
         "y": {"field": "var", "type": "nominal", "sort": null, "title": null}, "color": {"field": "var", "type": "nominal", "sort": null, "legend": null}}}
     ],
     "resolve": {"axis": {"x": "independent"}}},
    {"transform": [{"fold": ["P value", "HR & 95%CI"], "as": ["col", "txt"]}],
     "mark": {"type": "text", "fontSize": 12.5, "color": "#333"},
     "encoding": {
      "x": {"field": "col", "type": "nominal", "sort": null, "scale": {"type": "point", "domain": ["P value", "HR & 95%CI"], "range": [370, 459], "padding": 0},
            "axis": {"orient": "top", "title": null, "domain": false, "ticks": false, "tickSize": 0, "labelAngle": 0, "labelFontSize": 13, "labelColor": "#222", "labelPadding": 6, "labelOffset": 6}},
      "y": {"field": "var", "type": "nominal", "sort": null, "title": null},
      "text": {"field": "txt"}
     }}
   ],
   "resolve": {"scale": {"x": "independent"}, "axis": {"x": "independent"}}}
 ],
 "resolve": {"scale": {"x": "independent", "y": "independent"}, "axis": {"x": "independent", "y": "independent"}}
}
], "spacing": 4, "bounds": "flush"}
]
}
